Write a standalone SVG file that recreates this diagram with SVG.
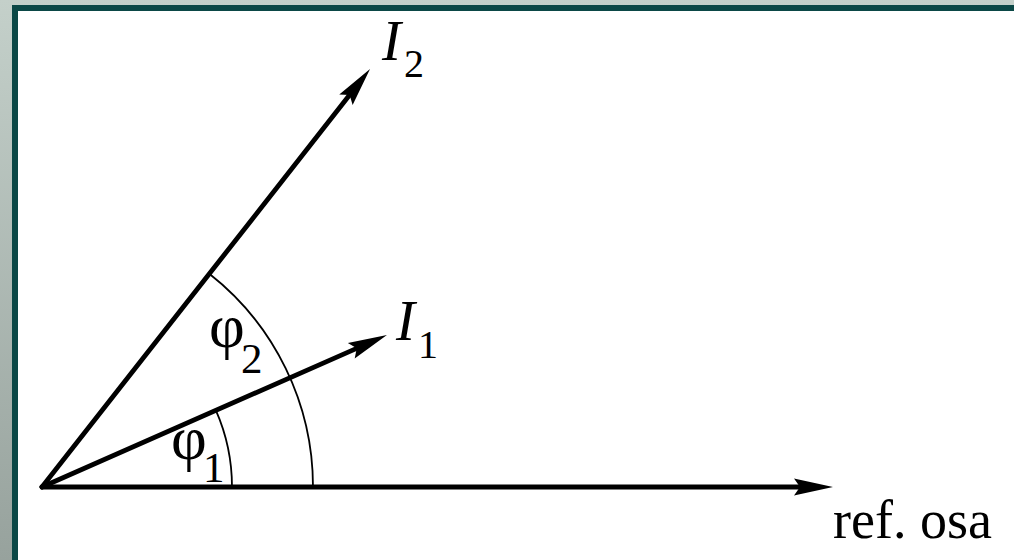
<svg xmlns="http://www.w3.org/2000/svg" width="1014" height="560" viewBox="0 0 1014 560">
  <defs>
    <linearGradient id="bg" x1="0" y1="0" x2="0" y2="1">
      <stop offset="0" stop-color="#c4d0ca"/>
      <stop offset="1" stop-color="#97a29d"/>
    </linearGradient>
    <marker id="arr" markerUnits="userSpaceOnUse" markerWidth="50" markerHeight="30" refX="0" refY="0" orient="auto" overflow="visible">
      <path d="M30,0 L-9,-8.5 L-3,0 L-9,8.5 Z" fill="#000"/>
    </marker>
  </defs>
  <style>
    .vec { stroke: #000; stroke-width: 4.8; fill: none; stroke-linecap: round; marker-end: url(#arr); }
    .arc { stroke: #000; stroke-width: 1.8; fill: none; }
    .lbl { font-family: "Liberation Serif", "DejaVu Serif", serif; fill: #000; }
    .it { font-style: italic; }
  </style>
  <rect x="0" y="0" width="1014" height="560" fill="url(#bg)"/>
  <rect x="12" y="5" width="1002" height="555" fill="#0b4846"/>
  <rect x="18" y="11" width="996" height="549" fill="#ffffff"/>

  <g id="connectors">
    <line class="vec" x1="42" y1="487" x2="803" y2="487"/>
    <line class="vec" x1="42" y1="487" x2="351.5" y2="92.6"/>
    <line class="vec" x1="42" y1="487" x2="359.5" y2="347.1"/>
    <path class="arc" d="M232,487 A190,190 0 0 0 215.9,410.4"/>
    <path class="arc" d="M313,487 A271,271 0 0 0 209.3,273.8"/>
  </g>

  <g id="label-I2">
    <text class="lbl it" x="382" y="60" font-size="57">I</text>
    <text class="lbl" x="404" y="77" font-size="40">2</text>
  </g>
  <g id="label-I1">
    <text class="lbl it" x="396" y="340" font-size="57">I</text>
    <text class="lbl" x="418" y="358" font-size="40">1</text>
  </g>
  <g id="label-phi2">
    <text class="lbl" x="209" y="347" font-size="62">φ</text>
    <text class="lbl" x="241" y="373" font-size="43">2</text>
  </g>
  <g id="label-phi1">
    <text class="lbl" x="171" y="459" font-size="62">φ</text>
    <text class="lbl" x="203" y="482" font-size="43">1</text>
  </g>
  <g id="label-ref">
    <text class="lbl" x="833" y="538" font-size="54">ref. osa</text>
  </g>
</svg>
